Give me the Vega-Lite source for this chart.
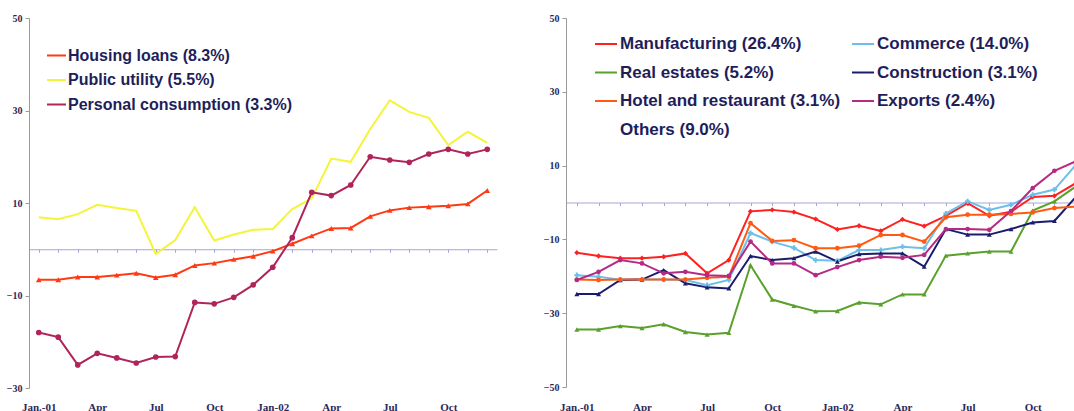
{
  "$schema": "https://vega.github.io/schema/vega-lite/v6.json",
  "background": "white",
  "padding": {"left": 6, "top": 13, "right": 0, "bottom": 0},
  "config": {"view": {"stroke": null}},
  "datasets": {
    "left": [
      {"s": "Housing loans (8.3%)", "m": 1, "v": -6.6}, {"s": "Housing loans (8.3%)", "m": 2, "v": -6.6}, {"s": "Housing loans (8.3%)", "m": 3, "v": -6.0}, {"s": "Housing loans (8.3%)", "m": 4, "v": -6.0},
      {"s": "Housing loans (8.3%)", "m": 5, "v": -5.6}, {"s": "Housing loans (8.3%)", "m": 6, "v": -5.2}, {"s": "Housing loans (8.3%)", "m": 7, "v": -6.1}, {"s": "Housing loans (8.3%)", "m": 8, "v": -5.5},
      {"s": "Housing loans (8.3%)", "m": 9, "v": -3.5}, {"s": "Housing loans (8.3%)", "m": 10, "v": -3.0}, {"s": "Housing loans (8.3%)", "m": 11, "v": -2.2}, {"s": "Housing loans (8.3%)", "m": 12, "v": -1.5},
      {"s": "Housing loans (8.3%)", "m": 13, "v": -0.4}, {"s": "Housing loans (8.3%)", "m": 14, "v": 1.2}, {"s": "Housing loans (8.3%)", "m": 15, "v": 2.9}, {"s": "Housing loans (8.3%)", "m": 16, "v": 4.5},
      {"s": "Housing loans (8.3%)", "m": 17, "v": 4.6}, {"s": "Housing loans (8.3%)", "m": 18, "v": 7.1}, {"s": "Housing loans (8.3%)", "m": 19, "v": 8.4}, {"s": "Housing loans (8.3%)", "m": 20, "v": 9.0},
      {"s": "Housing loans (8.3%)", "m": 21, "v": 9.2}, {"s": "Housing loans (8.3%)", "m": 22, "v": 9.4}, {"s": "Housing loans (8.3%)", "m": 23, "v": 9.8}, {"s": "Housing loans (8.3%)", "m": 24, "v": 12.7},
      {"s": "Public utility (5.5%)", "m": 1, "v": 6.9}, {"s": "Public utility (5.5%)", "m": 2, "v": 6.5}, {"s": "Public utility (5.5%)", "m": 3, "v": 7.6}, {"s": "Public utility (5.5%)", "m": 4, "v": 9.6},
      {"s": "Public utility (5.5%)", "m": 5, "v": 8.9}, {"s": "Public utility (5.5%)", "m": 6, "v": 8.3}, {"s": "Public utility (5.5%)", "m": 7, "v": -1.0}, {"s": "Public utility (5.5%)", "m": 8, "v": 2.0},
      {"s": "Public utility (5.5%)", "m": 9, "v": 9.1}, {"s": "Public utility (5.5%)", "m": 10, "v": 1.9}, {"s": "Public utility (5.5%)", "m": 11, "v": 3.2}, {"s": "Public utility (5.5%)", "m": 12, "v": 4.2},
      {"s": "Public utility (5.5%)", "m": 13, "v": 4.4}, {"s": "Public utility (5.5%)", "m": 14, "v": 8.7}, {"s": "Public utility (5.5%)", "m": 15, "v": 11.0}, {"s": "Public utility (5.5%)", "m": 16, "v": 19.6},
      {"s": "Public utility (5.5%)", "m": 17, "v": 18.9}, {"s": "Public utility (5.5%)", "m": 18, "v": 26.0}, {"s": "Public utility (5.5%)", "m": 19, "v": 32.2}, {"s": "Public utility (5.5%)", "m": 20, "v": 29.7},
      {"s": "Public utility (5.5%)", "m": 21, "v": 28.4}, {"s": "Public utility (5.5%)", "m": 22, "v": 22.5}, {"s": "Public utility (5.5%)", "m": 23, "v": 25.4}, {"s": "Public utility (5.5%)", "m": 24, "v": 23.0},
      {"s": "Personal consumption (3.3%)", "m": 1, "v": -18.0}, {"s": "Personal consumption (3.3%)", "m": 2, "v": -19.0}, {"s": "Personal consumption (3.3%)", "m": 3, "v": -25.0}, {"s": "Personal consumption (3.3%)", "m": 4, "v": -22.5},
      {"s": "Personal consumption (3.3%)", "m": 5, "v": -23.5}, {"s": "Personal consumption (3.3%)", "m": 6, "v": -24.6}, {"s": "Personal consumption (3.3%)", "m": 7, "v": -23.3}, {"s": "Personal consumption (3.3%)", "m": 8, "v": -23.2},
      {"s": "Personal consumption (3.3%)", "m": 9, "v": -11.5}, {"s": "Personal consumption (3.3%)", "m": 10, "v": -11.8}, {"s": "Personal consumption (3.3%)", "m": 11, "v": -10.4}, {"s": "Personal consumption (3.3%)", "m": 12, "v": -7.7},
      {"s": "Personal consumption (3.3%)", "m": 13, "v": -3.9}, {"s": "Personal consumption (3.3%)", "m": 14, "v": 2.5}, {"s": "Personal consumption (3.3%)", "m": 15, "v": 12.3}, {"s": "Personal consumption (3.3%)", "m": 16, "v": 11.6},
      {"s": "Personal consumption (3.3%)", "m": 17, "v": 13.9}, {"s": "Personal consumption (3.3%)", "m": 18, "v": 20.0}, {"s": "Personal consumption (3.3%)", "m": 19, "v": 19.3}, {"s": "Personal consumption (3.3%)", "m": 20, "v": 18.8},
      {"s": "Personal consumption (3.3%)", "m": 21, "v": 20.6}, {"s": "Personal consumption (3.3%)", "m": 22, "v": 21.6}, {"s": "Personal consumption (3.3%)", "m": 23, "v": 20.6}, {"s": "Personal consumption (3.3%)", "m": 24, "v": 21.6}
    ],
    "right": [
      {"s": "Manufacturing (26.4%)", "m": 1, "v": -13.6}, {"s": "Manufacturing (26.4%)", "m": 2, "v": -14.5}, {"s": "Manufacturing (26.4%)", "m": 3, "v": -15.1}, {"s": "Manufacturing (26.4%)", "m": 4, "v": -15.1},
      {"s": "Manufacturing (26.4%)", "m": 5, "v": -14.7}, {"s": "Manufacturing (26.4%)", "m": 6, "v": -13.8}, {"s": "Manufacturing (26.4%)", "m": 7, "v": -19.2}, {"s": "Manufacturing (26.4%)", "m": 8, "v": -15.6},
      {"s": "Manufacturing (26.4%)", "m": 9, "v": -2.4}, {"s": "Manufacturing (26.4%)", "m": 10, "v": -2.0}, {"s": "Manufacturing (26.4%)", "m": 11, "v": -2.6}, {"s": "Manufacturing (26.4%)", "m": 12, "v": -4.5},
      {"s": "Manufacturing (26.4%)", "m": 13, "v": -7.3}, {"s": "Manufacturing (26.4%)", "m": 14, "v": -6.3}, {"s": "Manufacturing (26.4%)", "m": 15, "v": -7.7}, {"s": "Manufacturing (26.4%)", "m": 16, "v": -4.6},
      {"s": "Manufacturing (26.4%)", "m": 17, "v": -6.4}, {"s": "Manufacturing (26.4%)", "m": 18, "v": -3.6}, {"s": "Manufacturing (26.4%)", "m": 19, "v": -0.2}, {"s": "Manufacturing (26.4%)", "m": 20, "v": -3.6},
      {"s": "Manufacturing (26.4%)", "m": 21, "v": -2.5}, {"s": "Manufacturing (26.4%)", "m": 22, "v": 1.5}, {"s": "Manufacturing (26.4%)", "m": 23, "v": 1.8}, {"s": "Manufacturing (26.4%)", "m": 24, "v": 5.3},
      {"s": "Commerce (14.0%)", "m": 1, "v": -19.7}, {"s": "Commerce (14.0%)", "m": 2, "v": -20.1}, {"s": "Commerce (14.0%)", "m": 3, "v": -20.9}, {"s": "Commerce (14.0%)", "m": 4, "v": -20.9},
      {"s": "Commerce (14.0%)", "m": 5, "v": -20.9}, {"s": "Commerce (14.0%)", "m": 6, "v": -21.0}, {"s": "Commerce (14.0%)", "m": 7, "v": -22.4}, {"s": "Commerce (14.0%)", "m": 8, "v": -21.0},
      {"s": "Commerce (14.0%)", "m": 9, "v": -8.3}, {"s": "Commerce (14.0%)", "m": 10, "v": -10.6}, {"s": "Commerce (14.0%)", "m": 11, "v": -12.3}, {"s": "Commerce (14.0%)", "m": 12, "v": -15.6},
      {"s": "Commerce (14.0%)", "m": 13, "v": -15.8}, {"s": "Commerce (14.0%)", "m": 14, "v": -12.9}, {"s": "Commerce (14.0%)", "m": 15, "v": -12.9}, {"s": "Commerce (14.0%)", "m": 16, "v": -12.0},
      {"s": "Commerce (14.0%)", "m": 17, "v": -12.4}, {"s": "Commerce (14.0%)", "m": 18, "v": -3.0}, {"s": "Commerce (14.0%)", "m": 19, "v": 0.3}, {"s": "Commerce (14.0%)", "m": 20, "v": -2.0},
      {"s": "Commerce (14.0%)", "m": 21, "v": -0.6}, {"s": "Commerce (14.0%)", "m": 22, "v": 2.1}, {"s": "Commerce (14.0%)", "m": 23, "v": 3.5}, {"s": "Commerce (14.0%)", "m": 24, "v": 10.3},
      {"s": "Real estates (5.2%)", "m": 1, "v": -34.4}, {"s": "Real estates (5.2%)", "m": 2, "v": -34.4}, {"s": "Real estates (5.2%)", "m": 3, "v": -33.5}, {"s": "Real estates (5.2%)", "m": 4, "v": -34.0},
      {"s": "Real estates (5.2%)", "m": 5, "v": -33.0}, {"s": "Real estates (5.2%)", "m": 6, "v": -35.1}, {"s": "Real estates (5.2%)", "m": 7, "v": -35.8}, {"s": "Real estates (5.2%)", "m": 8, "v": -35.3},
      {"s": "Real estates (5.2%)", "m": 9, "v": -17.0}, {"s": "Real estates (5.2%)", "m": 10, "v": -26.3}, {"s": "Real estates (5.2%)", "m": 11, "v": -28.0}, {"s": "Real estates (5.2%)", "m": 12, "v": -29.5},
      {"s": "Real estates (5.2%)", "m": 13, "v": -29.4}, {"s": "Real estates (5.2%)", "m": 14, "v": -27.1}, {"s": "Real estates (5.2%)", "m": 15, "v": -27.6}, {"s": "Real estates (5.2%)", "m": 16, "v": -24.9},
      {"s": "Real estates (5.2%)", "m": 17, "v": -24.9}, {"s": "Real estates (5.2%)", "m": 18, "v": -14.4}, {"s": "Real estates (5.2%)", "m": 19, "v": -13.8}, {"s": "Real estates (5.2%)", "m": 20, "v": -13.3},
      {"s": "Real estates (5.2%)", "m": 21, "v": -13.3}, {"s": "Real estates (5.2%)", "m": 22, "v": -2.2}, {"s": "Real estates (5.2%)", "m": 23, "v": 0.3}, {"s": "Real estates (5.2%)", "m": 24, "v": 4.4},
      {"s": "Construction (3.1%)", "m": 1, "v": -24.8}, {"s": "Construction (3.1%)", "m": 2, "v": -24.8}, {"s": "Construction (3.1%)", "m": 3, "v": -21.0}, {"s": "Construction (3.1%)", "m": 4, "v": -20.9},
      {"s": "Construction (3.1%)", "m": 5, "v": -18.3}, {"s": "Construction (3.1%)", "m": 6, "v": -21.9}, {"s": "Construction (3.1%)", "m": 7, "v": -23.0}, {"s": "Construction (3.1%)", "m": 8, "v": -23.3},
      {"s": "Construction (3.1%)", "m": 9, "v": -14.5}, {"s": "Construction (3.1%)", "m": 10, "v": -15.6}, {"s": "Construction (3.1%)", "m": 11, "v": -15.1}, {"s": "Construction (3.1%)", "m": 12, "v": -13.3},
      {"s": "Construction (3.1%)", "m": 13, "v": -16.0}, {"s": "Construction (3.1%)", "m": 14, "v": -14.0}, {"s": "Construction (3.1%)", "m": 15, "v": -13.8}, {"s": "Construction (3.1%)", "m": 16, "v": -13.8},
      {"s": "Construction (3.1%)", "m": 17, "v": -17.4}, {"s": "Construction (3.1%)", "m": 18, "v": -7.2}, {"s": "Construction (3.1%)", "m": 19, "v": -8.7}, {"s": "Construction (3.1%)", "m": 20, "v": -8.7},
      {"s": "Construction (3.1%)", "m": 21, "v": -7.2}, {"s": "Construction (3.1%)", "m": 22, "v": -5.4}, {"s": "Construction (3.1%)", "m": 23, "v": -5.0}, {"s": "Construction (3.1%)", "m": 24, "v": 1.6},
      {"s": "Hotel and restaurant (3.1%)", "m": 1, "v": -20.9}, {"s": "Hotel and restaurant (3.1%)", "m": 2, "v": -21.0}, {"s": "Hotel and restaurant (3.1%)", "m": 3, "v": -20.9}, {"s": "Hotel and restaurant (3.1%)", "m": 4, "v": -20.9},
      {"s": "Hotel and restaurant (3.1%)", "m": 5, "v": -20.9}, {"s": "Hotel and restaurant (3.1%)", "m": 6, "v": -20.9}, {"s": "Hotel and restaurant (3.1%)", "m": 7, "v": -20.4}, {"s": "Hotel and restaurant (3.1%)", "m": 8, "v": -20.1},
      {"s": "Hotel and restaurant (3.1%)", "m": 9, "v": -5.6}, {"s": "Hotel and restaurant (3.1%)", "m": 10, "v": -10.4}, {"s": "Hotel and restaurant (3.1%)", "m": 11, "v": -10.2}, {"s": "Hotel and restaurant (3.1%)", "m": 12, "v": -12.4},
      {"s": "Hotel and restaurant (3.1%)", "m": 13, "v": -12.4}, {"s": "Hotel and restaurant (3.1%)", "m": 14, "v": -11.7}, {"s": "Hotel and restaurant (3.1%)", "m": 15, "v": -8.8}, {"s": "Hotel and restaurant (3.1%)", "m": 16, "v": -8.8},
      {"s": "Hotel and restaurant (3.1%)", "m": 17, "v": -10.6}, {"s": "Hotel and restaurant (3.1%)", "m": 18, "v": -4.0}, {"s": "Hotel and restaurant (3.1%)", "m": 19, "v": -3.3}, {"s": "Hotel and restaurant (3.1%)", "m": 20, "v": -3.3},
      {"s": "Hotel and restaurant (3.1%)", "m": 21, "v": -3.1}, {"s": "Hotel and restaurant (3.1%)", "m": 22, "v": -2.7}, {"s": "Hotel and restaurant (3.1%)", "m": 23, "v": -1.5}, {"s": "Hotel and restaurant (3.1%)", "m": 24, "v": -1.1},
      {"s": "Exports (2.4%)", "m": 1, "v": -21.0}, {"s": "Exports (2.4%)", "m": 2, "v": -18.8}, {"s": "Exports (2.4%)", "m": 3, "v": -15.6}, {"s": "Exports (2.4%)", "m": 4, "v": -16.5},
      {"s": "Exports (2.4%)", "m": 5, "v": -19.2}, {"s": "Exports (2.4%)", "m": 6, "v": -18.8}, {"s": "Exports (2.4%)", "m": 7, "v": -19.7}, {"s": "Exports (2.4%)", "m": 8, "v": -19.9},
      {"s": "Exports (2.4%)", "m": 9, "v": -10.6}, {"s": "Exports (2.4%)", "m": 10, "v": -16.5}, {"s": "Exports (2.4%)", "m": 11, "v": -16.5}, {"s": "Exports (2.4%)", "m": 12, "v": -19.7},
      {"s": "Exports (2.4%)", "m": 13, "v": -17.5}, {"s": "Exports (2.4%)", "m": 14, "v": -15.6}, {"s": "Exports (2.4%)", "m": 15, "v": -14.7}, {"s": "Exports (2.4%)", "m": 16, "v": -15.0},
      {"s": "Exports (2.4%)", "m": 17, "v": -14.2}, {"s": "Exports (2.4%)", "m": 18, "v": -7.2}, {"s": "Exports (2.4%)", "m": 19, "v": -7.2}, {"s": "Exports (2.4%)", "m": 20, "v": -7.4},
      {"s": "Exports (2.4%)", "m": 21, "v": -2.3}, {"s": "Exports (2.4%)", "m": 22, "v": 3.9}, {"s": "Exports (2.4%)", "m": 23, "v": 8.6}, {"s": "Exports (2.4%)", "m": 24, "v": 11.2}
    ]
  },
  "spacing": 69,
  "bounds": "flush",
  "resolve": {"scale": {"color": "independent", "shape": "independent", "x": "independent", "y": "independent"}},
  "hconcat": [
    {
      "width": 468,
      "height": 370,
      "data": {"name": "left"},
      "resolve": {"axis": {"x": "independent"}},
      "layer": [
        {
          "mark": {"type": "line", "strokeWidth": 2},
          "encoding": {
            "x": {"field": "m", "type": "ordinal", "scale": {"type": "point", "padding": 0.5},
              "axis": {"title": null, "domain": false, "ticks": false, "tickSize": 0, "labelPadding": 13, "labelAngle": 0, "labelOverlap": false,
                "labelFont": "Liberation Serif", "labelFontWeight": "bold", "labelFontSize": 11, "labelColor": "#2a2a5a",
                "labelExpr": "datum.value == 1 ? 'Jan.-01' : datum.value == 13 ? 'Jan-02' : (datum.value % 3 == 1 ? ['Apr','Jul','Oct'][((datum.value - 1) % 12) / 3 - 1] : '')"}},
            "y": {"field": "v", "type": "quantitative", "scale": {"domain": [-30, 50], "nice": false, "zero": false},
              "axis": {"title": null, "grid": false, "values": [-30, -10, 10, 30, 50], "domainColor": "#9a9a9a", "tickColor": "#9a9a9a", "tickSize": 4, "labelPadding": 3,
                "labelFont": "Liberation Serif", "labelFontWeight": "bold", "labelFontSize": 10, "labelColor": "#2a2a5a"}},
            "color": {"field": "s", "type": "nominal",
              "scale": {"domain": ["Housing loans (8.3%)", "Public utility (5.5%)", "Personal consumption (3.3%)"], "range": ["#ff3a12", "#f4f43a", "#b0245a"]},
              "legend": {"title": null, "orient": "none", "legendX": 17, "legendY": 27, "padding": 0, "symbolType": "stroke", "symbolSize": 361, "symbolStrokeWidth": 2,
                "labelFont": "Liberation Sans", "labelFontWeight": "bold", "labelFontSize": 16, "labelColor": "#1e1e5a", "labelOffset": 1, "rowPadding": 5.5, "labelLimit": 400}}
          }
        },
        {
          "transform": [{"filter": "datum.s != 'Public utility (5.5%)'"}],
          "mark": {"type": "point", "filled": true, "opacity": 1},
          "encoding": {
            "x": {"field": "m", "type": "ordinal",
              "axis": {"title": null, "orient": "bottom", "offset": -138.75, "labels": false, "domainColor": "#a6a6d8", "tickColor": "#a6a6d8", "tickSize": 3}},
            "y": {"field": "v", "type": "quantitative"},
            "color": {"field": "s", "type": "nominal"},
            "shape": {"field": "s", "type": "nominal", "scale": {"domain": ["Housing loans (8.3%)", "Personal consumption (3.3%)"], "range": ["triangle-up", "circle"]}, "legend": null},
            "size": {"value": 32}
          }
        }
      ]
    },
    {
      "width": 521,
      "height": 369,
      "data": {"name": "right"},
      "resolve": {"axis": {"x": "independent"}},
      "layer": [
        {
          "mark": {"type": "line", "strokeWidth": 2},
          "encoding": {
            "x": {"field": "m", "type": "ordinal", "scale": {"type": "point", "padding": 0.5},
              "axis": {"title": null, "domain": false, "ticks": false, "tickSize": 0, "labelPadding": 14, "labelAngle": 0, "labelOverlap": false,
                "labelFont": "Liberation Serif", "labelFontWeight": "bold", "labelFontSize": 11, "labelColor": "#2a2a5a",
                "labelExpr": "datum.value == 1 ? 'Jan.-01' : datum.value == 13 ? 'Jan-02' : (datum.value % 3 == 1 ? ['Apr','Jul','Oct'][((datum.value - 1) % 12) / 3 - 1] : '')"}},
            "y": {"field": "v", "type": "quantitative", "scale": {"domain": [-50, 50], "nice": false, "zero": false},
              "axis": {"title": null, "grid": false, "values": [-50, -30, -10, 10, 30, 50], "domainColor": "#9a9a9a", "tickColor": "#9a9a9a", "tickSize": 4, "labelPadding": 3,
                "labelFont": "Liberation Serif", "labelFontWeight": "bold", "labelFontSize": 10, "labelColor": "#2a2a5a"}},
            "color": {"field": "s", "type": "nominal",
              "scale": {"domain": ["Manufacturing (26.4%)", "Real estates (5.2%)", "Hotel and restaurant (3.1%)", "Others (9.0%)", "Commerce (14.0%)", "Construction (3.1%)", "Exports (2.4%)"],
                "range": ["#ff2020", "#5aa02c", "#ff5a14", "#ffffff", "#6cbfe9", "#1c1c6e", "#b52a84"]},
              "legend": {"title": null, "orient": "none", "legendX": 28, "legendY": 14, "padding": 0, "columns": 2, "columnPadding": 7, "symbolType": "stroke", "symbolSize": 484, "symbolStrokeWidth": 2,
                "labelFont": "Liberation Sans", "labelFontWeight": "bold", "labelFontSize": 17, "labelColor": "#1e1e5a", "labelOffset": 2, "rowPadding": 8.5, "labelLimit": 400}}
          }
        },
        {
          "mark": {"type": "point", "filled": true, "opacity": 1},
          "encoding": {
            "x": {"field": "m", "type": "ordinal",
              "axis": {"title": null, "orient": "bottom", "offset": -184.5, "labels": false, "domainColor": "#a6a6d8", "tickColor": "#a6a6d8", "tickSize": 3}},
            "y": {"field": "v", "type": "quantitative"},
            "color": {"field": "s", "type": "nominal"},
            "shape": {"field": "s", "type": "nominal",
              "scale": {"domain": ["Manufacturing (26.4%)", "Commerce (14.0%)", "Real estates (5.2%)", "Construction (3.1%)", "Hotel and restaurant (3.1%)", "Exports (2.4%)"],
                "range": ["diamond", "cross", "triangle-up", "triangle-up", "circle", "circle"]}, "legend": null},
            "size": {"field": "s", "type": "nominal",
              "scale": {"domain": ["Manufacturing (26.4%)", "Commerce (14.0%)", "Real estates (5.2%)", "Construction (3.1%)", "Hotel and restaurant (3.1%)", "Exports (2.4%)"],
                "range": [28, 22, 40, 55, 28, 22]}, "legend": null}
          }
        }
      ]
    }
  ]
}
